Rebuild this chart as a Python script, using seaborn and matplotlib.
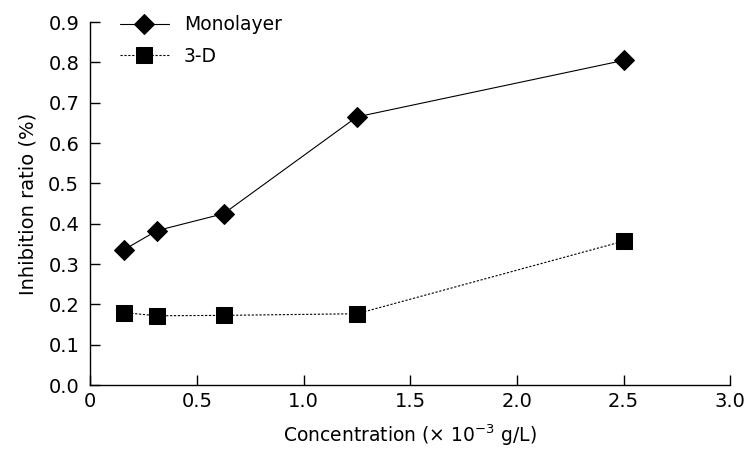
import numpy as np
import pandas as pd
import matplotlib
matplotlib.use("Agg")
import matplotlib.pyplot as plt
import seaborn as sns

# 数据
concentration = [0.156, 0.3125, 0.625, 1.25, 2.5]
monolayer = [0.335, 0.383, 0.425, 0.665, 0.805]
three_d = [0.180, 0.172, 0.173, 0.177, 0.357]
x_ticklabels = ["0", "0.5", "1.0", "1.5", "2.0", "2.5", "3.0"]

df = pd.DataFrame({
    "conc": concentration * 2,
    "ratio": monolayer + three_d,
    "group": ["Monolayer"] * 5 + ["3-D"] * 5,
})

sns.set_style("ticks")
plt.rcParams['font.family'] = ['DejaVu Sans']
plt.rcParams['text.color'] = 'black'
plt.rcParams['axes.labelcolor'] = 'black'

fig = plt.figure(figsize=(7.52, 4.51), dpi=100)
ax = fig.add_axes([0.12, 0.146, 0.851, 0.805])

sns.lineplot(data=df, x="conc", y="ratio", hue="group", style="group",
             palette={"Monolayer": "black", "3-D": "black"},
             markers={"Monolayer": "D", "3-D": "s"},
             dashes={"Monolayer": "", "3-D": (2, 1.5)},
             markersize=11, linewidth=0.8, markeredgecolor="black",
             ax=ax)
for line in ax.lines:
    if line.get_marker() == "D":
        line.set_markersize(10)

ax.set_xlim(0, 3.0)
ax.set_ylim(0, 0.9)
ax.set_xticks(np.arange(0, 3.01, 0.5))
ax.set_xticklabels(x_ticklabels)
ax.set_yticks(np.arange(0, 0.91, 0.1))
ax.set_yticklabels([f"{v:.1f}" for v in np.arange(0, 0.91, 0.1)])
ax.tick_params(direction="in", length=7, width=1, labelsize=14, colors="black")
ax.tick_params(axis="x", pad=5)
ax.tick_params(axis="y", pad=8)
sns.despine(ax=ax)
for s in ["left", "bottom"]:
    ax.spines[s].set_linewidth(1)
    ax.spines[s].set_color("black")

ax.set_xlabel("Concentration (× 10$^{-3}$ g/L)", fontsize=13.5, labelpad=8)
ax.set_ylabel("Inhibition ratio (%)", fontsize=14, labelpad=8)

leg = ax.legend(loc="upper left", bbox_to_anchor=(0.02, 1.065), frameon=False,
                fontsize=13.5, handlelength=2.6, labelspacing=0.65)
for t in leg.get_texts():
    t.set_color("black")

fig.savefig("out.png", dpi=100)
